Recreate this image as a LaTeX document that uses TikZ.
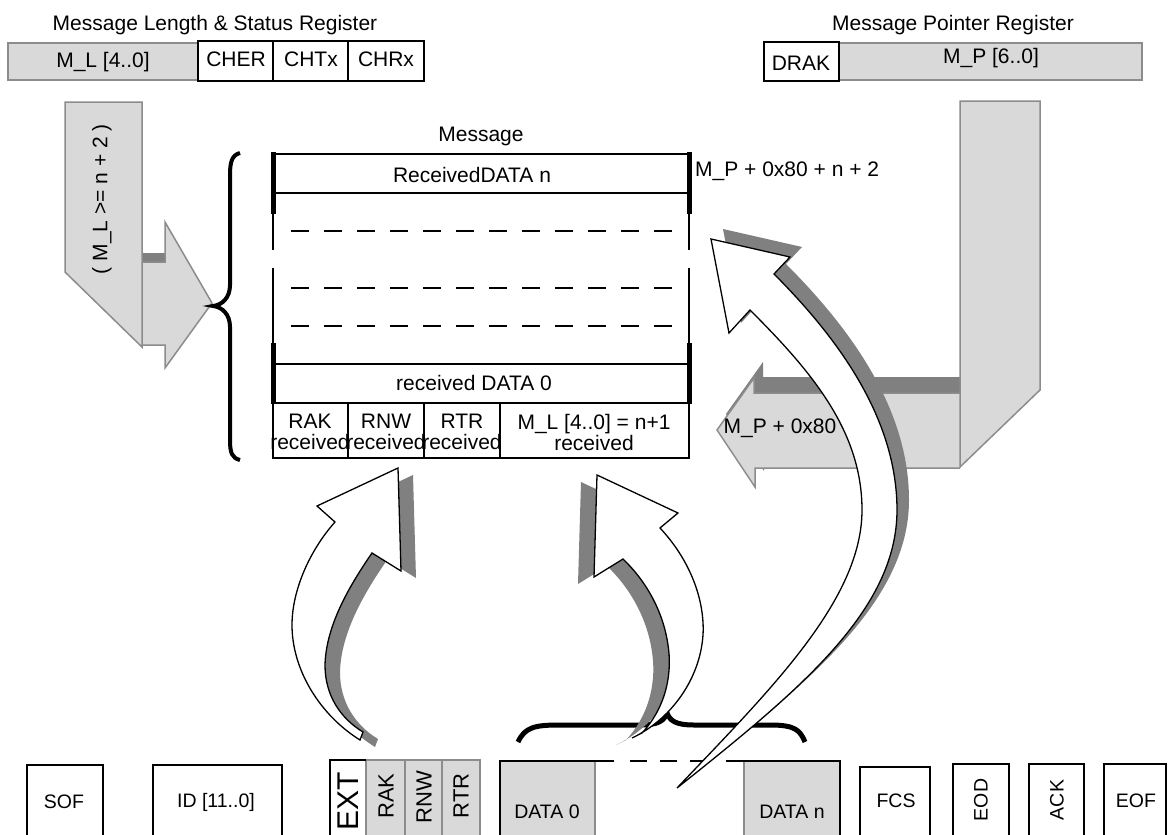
\documentclass[tikz,border=0pt]{standalone}
\usepackage{fontspec}
\setmainfont{Liberation Sans}
\definecolor{lg}{HTML}{D9D9D9}
\definecolor{bg}{HTML}{8C8C8C}
\definecolor{dg}{HTML}{808080}
\begin{document}
\begin{tikzpicture}[x=1pt,y=-1pt,
  lbl/.style={font=\fontsize{21}{21}\selectfont, inner sep=0pt, align=center},
  sml/.style={font=\fontsize{19.5}{20}\selectfont, inner sep=0pt},
  greyshape/.style={fill=lg, draw=bg, line width=1.5pt},
  shad/.style={fill=dg},
  curarrow/.style={fill=white, draw=black, line width=1.3pt, line join=miter},
  thinl/.style={line width=1.3pt},
  thickl/.style={line width=2.5pt},
  barl/.style={line width=5pt},
  greyl/.style={draw=bg, line width=1.5pt}
]
\useasboundingbox (0,0) rectangle (1173,835);
\fill[white] (0,0) rectangle (1173,835);

% ---------- registers ----------
\node[lbl] (mlsr) at (215,25) {Message Length \& Status Register};
\draw[greyshape] (8,43) rectangle (198,80);
\draw[line width=2pt] (198,41) rectangle (424,81);
\draw[line width=2pt] (273,41) -- (273,81) (348,41) -- (348,81);
\node[lbl] (mlr) at (103,62) {M\_L [4..0]};
\node[lbl] (cher) at (236,59) {CHER};
\node[lbl] (chtx) at (311,59) {CHTx};
\node[lbl] (chrx) at (386,59) {CHRx};

\node[lbl] (mpr) at (953,25) {Message Pointer Register};
\draw[greyshape] (839,43) rectangle (1142,80);
\draw[line width=2.5pt] (764,42) rectangle (839,81);
\node[lbl] (drak) at (801,63) {DRAK};
\node[lbl] (mpreg) at (991,58) {M\_P [6..0]};

% ---------- left M_L arrow ----------
\fill[dg] (142,253) rectangle (166,262);
\draw[greyshape] (142,262) -- (165,262) -- (165,222) -- (212,303) -- (165,368) -- (165,345) -- (142,345);
\draw[greyshape] (65,102) -- (142,102) -- (142,347) -- (65,272) -- cycle;
\node[lbl, rotate=90] (mlcond) at (102,199) {( M\_L >= n + 2 )};

% ---------- right M_P arrow ----------
\fill[dg] (969,377) -- (763,377) -- (763,362) -- (726,414) -- (764,471) -- (764,452) -- (969,452) -- cycle;
\draw[greyshape] (960,393) -- (754,393) -- (754,378) -- (717,430) -- (755,487) -- (755,468) -- (960,468);
\draw[greyshape] (960,101) -- (1040,101) -- (1040,390) -- (960,467) -- cycle;
\node[lbl] (mp80) at (780,428) {M\_P + 0x80};

% ---------- message box ----------
\node[lbl] (msg) at (481,136) {Message};
\draw[thickl] (273,154) -- (689,154);
\draw[thickl] (273,193) -- (689,193);
\draw[barl] (273,152) -- (273,214) (689,152) -- (689,214);
\draw[barl] (273,343) -- (273,404) (689,343) -- (689,404);
\draw[thinl] (273,214) -- (273,250) (273,268) -- (273,343);
\draw[thinl] (689,214) -- (689,250) (689,268) -- (689,343);
\draw[thickl] (273,364) -- (689,364);
\draw[line width=2pt] (273,403) -- (689,403);
\draw[thinl] (273,403) rectangle (689,458);
\draw[thinl] (348,403) -- (348,458) (424,403) -- (424,458) (500,403) -- (500,458);
\foreach \yy in {231,288,326}
  \draw[line width=1.6pt, dash pattern=on 18pt off 15pt] (291,\yy) -- (673,\yy);
\node[lbl] (rdn) at (472,175) {ReceivedDATA n};
\node[lbl] (rd0) at (474,383) {received DATA 0};
\node[lbl] (crak) at (310,432) {RAK\\received};
\node[lbl] (crnw) at (386,432) {RNW\\received};
\node[lbl] (crtr) at (462,432) {RTR\\received};
\node[lbl] (cml) at (594,432) {M\_L [4..0] = n+1\\received};
\node[lbl, anchor=west] (mpn2) at (695,171) {M\_P + 0x80 + n + 2};

% ---------- left brace ----------
\draw[line width=4pt] (240,153) .. controls (232,155) and (230,162) .. (230,175) -- (230,285)
  .. controls (230,298) and (222,305) .. (213,306) .. controls (222,307) and (230,314) .. (230,327)
  -- (230,440) .. controls (230,453) and (232,458) .. (240,460);

% ---------- bottom frame ----------
\draw[line width=2pt] (27,836) -- (27,765) -- (103,765) -- (103,836);
\node[sml] (sof) at (64,802) {SOF};
\draw[line width=2pt] (153,836) -- (153,765) -- (282,765) -- (282,836);
\node[sml] (id) at (216,802) {ID [11..0]};
\fill[lg] (366,760) rectangle (480,836);
\draw[greyl] (366,760) -- (480,760) -- (480,836);
\draw[greyl] (366,760) -- (366,836) (405,760) -- (405,836) (442,760) -- (442,836);
\draw[line width=2pt] (330,836) -- (330,760) -- (366,760);
\node[font=\fontsize{30}{30}\selectfont, inner sep=0pt, rotate=90] (ext) at (348,801) {EXT};
\node[font=\fontsize{22}{22}\selectfont, inner sep=0pt, rotate=90] (rak) at (386,796) {RAK};
\node[font=\fontsize{22}{22}\selectfont, inner sep=0pt, rotate=90] (rnw) at (424,797) {RNW};
\node[font=\fontsize{22}{22}\selectfont, inner sep=0pt, rotate=90] (rtr) at (461,796) {RTR};

\fill[lg] (500,761) rectangle (595,836);
\fill[lg] (744,761) rectangle (840,836);
\draw[greyl] (595,761) -- (595,836) (744,761) -- (744,836);
\draw[line width=2pt] (500,836) -- (500,761) -- (614,761);
\draw[line width=2pt] (726,761) -- (840,761) -- (840,836);
\draw[line width=2.5pt, dash pattern=on 17pt off 13pt] (630,761) -- (707,761);
\node[sml] (d0) at (547,812) {DATA 0};
\node[sml] (dn) at (792,812) {DATA n};
\draw[line width=2pt] (860,836) -- (860,767) -- (930,767) -- (930,836);
\node[sml] (fcs) at (896,801) {FCS};
\draw[line width=2pt] (953,836) -- (953,764) -- (1009,764) -- (1009,836);
\node[sml, rotate=90] (eod) at (981,800) {EOD};
\draw[line width=2pt] (1029,836) -- (1029,764) -- (1084,764) -- (1084,836);
\node[sml, rotate=90] (ack) at (1057,800) {ACK};
\draw[line width=2pt] (1104,836) -- (1104,764) -- (1166,764) -- (1166,836);
\node[sml] (eof) at (1136,801) {EOF};

% ---------- bottom brace ----------
\draw[line width=5pt] (518,742) .. controls (525,727) and (535,725) .. (560,725) -- (640,725)
  .. controls (658,725) and (664,721) .. (667,713) .. controls (670,721) and (676,725) .. (694,725)
  -- (770,725) .. controls (795,725) and (800,730) .. (805,742);

% ---------- curved arrows ----------
\def\arrA{(360,740) .. controls (320,715) and (292,670) .. (292,625) .. controls (292,590) and (310,550) .. (335,522) -- (317,506) -- (398,468) -- (401,571) -- (372,553) .. controls (350,585) and (326,625) .. (325,665) .. controls (325,695) and (340,718) .. (363,732) -- cycle}
\def\arrB{(642,733) .. controls (668,705) and (672,670) .. (668,645) .. controls (663,610) and (645,580) .. (623,559) -- (594,577) -- (597,475) -- (678,513) -- (660,528) .. controls (690,560) and (705,600) .. (703,635) .. controls (700,680) and (670,720) .. (632,738) -- cycle}
\def\arrC{(677,788) .. controls (770,690) and (862,600) .. (862,510) .. controls (862,430) and (810,370) .. (750,310) -- (729,333) -- (711,239) -- (790,257) -- (774,274) .. controls (840,340) and (897,420) .. (897,510) .. controls (897,610) and (800,690) .. (677,788) -- cycle}

\fill[shad, shift={(15,7)}] \arrA;
\draw[curarrow] \arrA;
\fill[shad, shift={(-16,7)}] \arrB;
\draw[curarrow] \arrB;
\fill[shad, shift={(12,-10)}] \arrC;
\draw[curarrow] \arrC;
\end{tikzpicture}
\end{document}
